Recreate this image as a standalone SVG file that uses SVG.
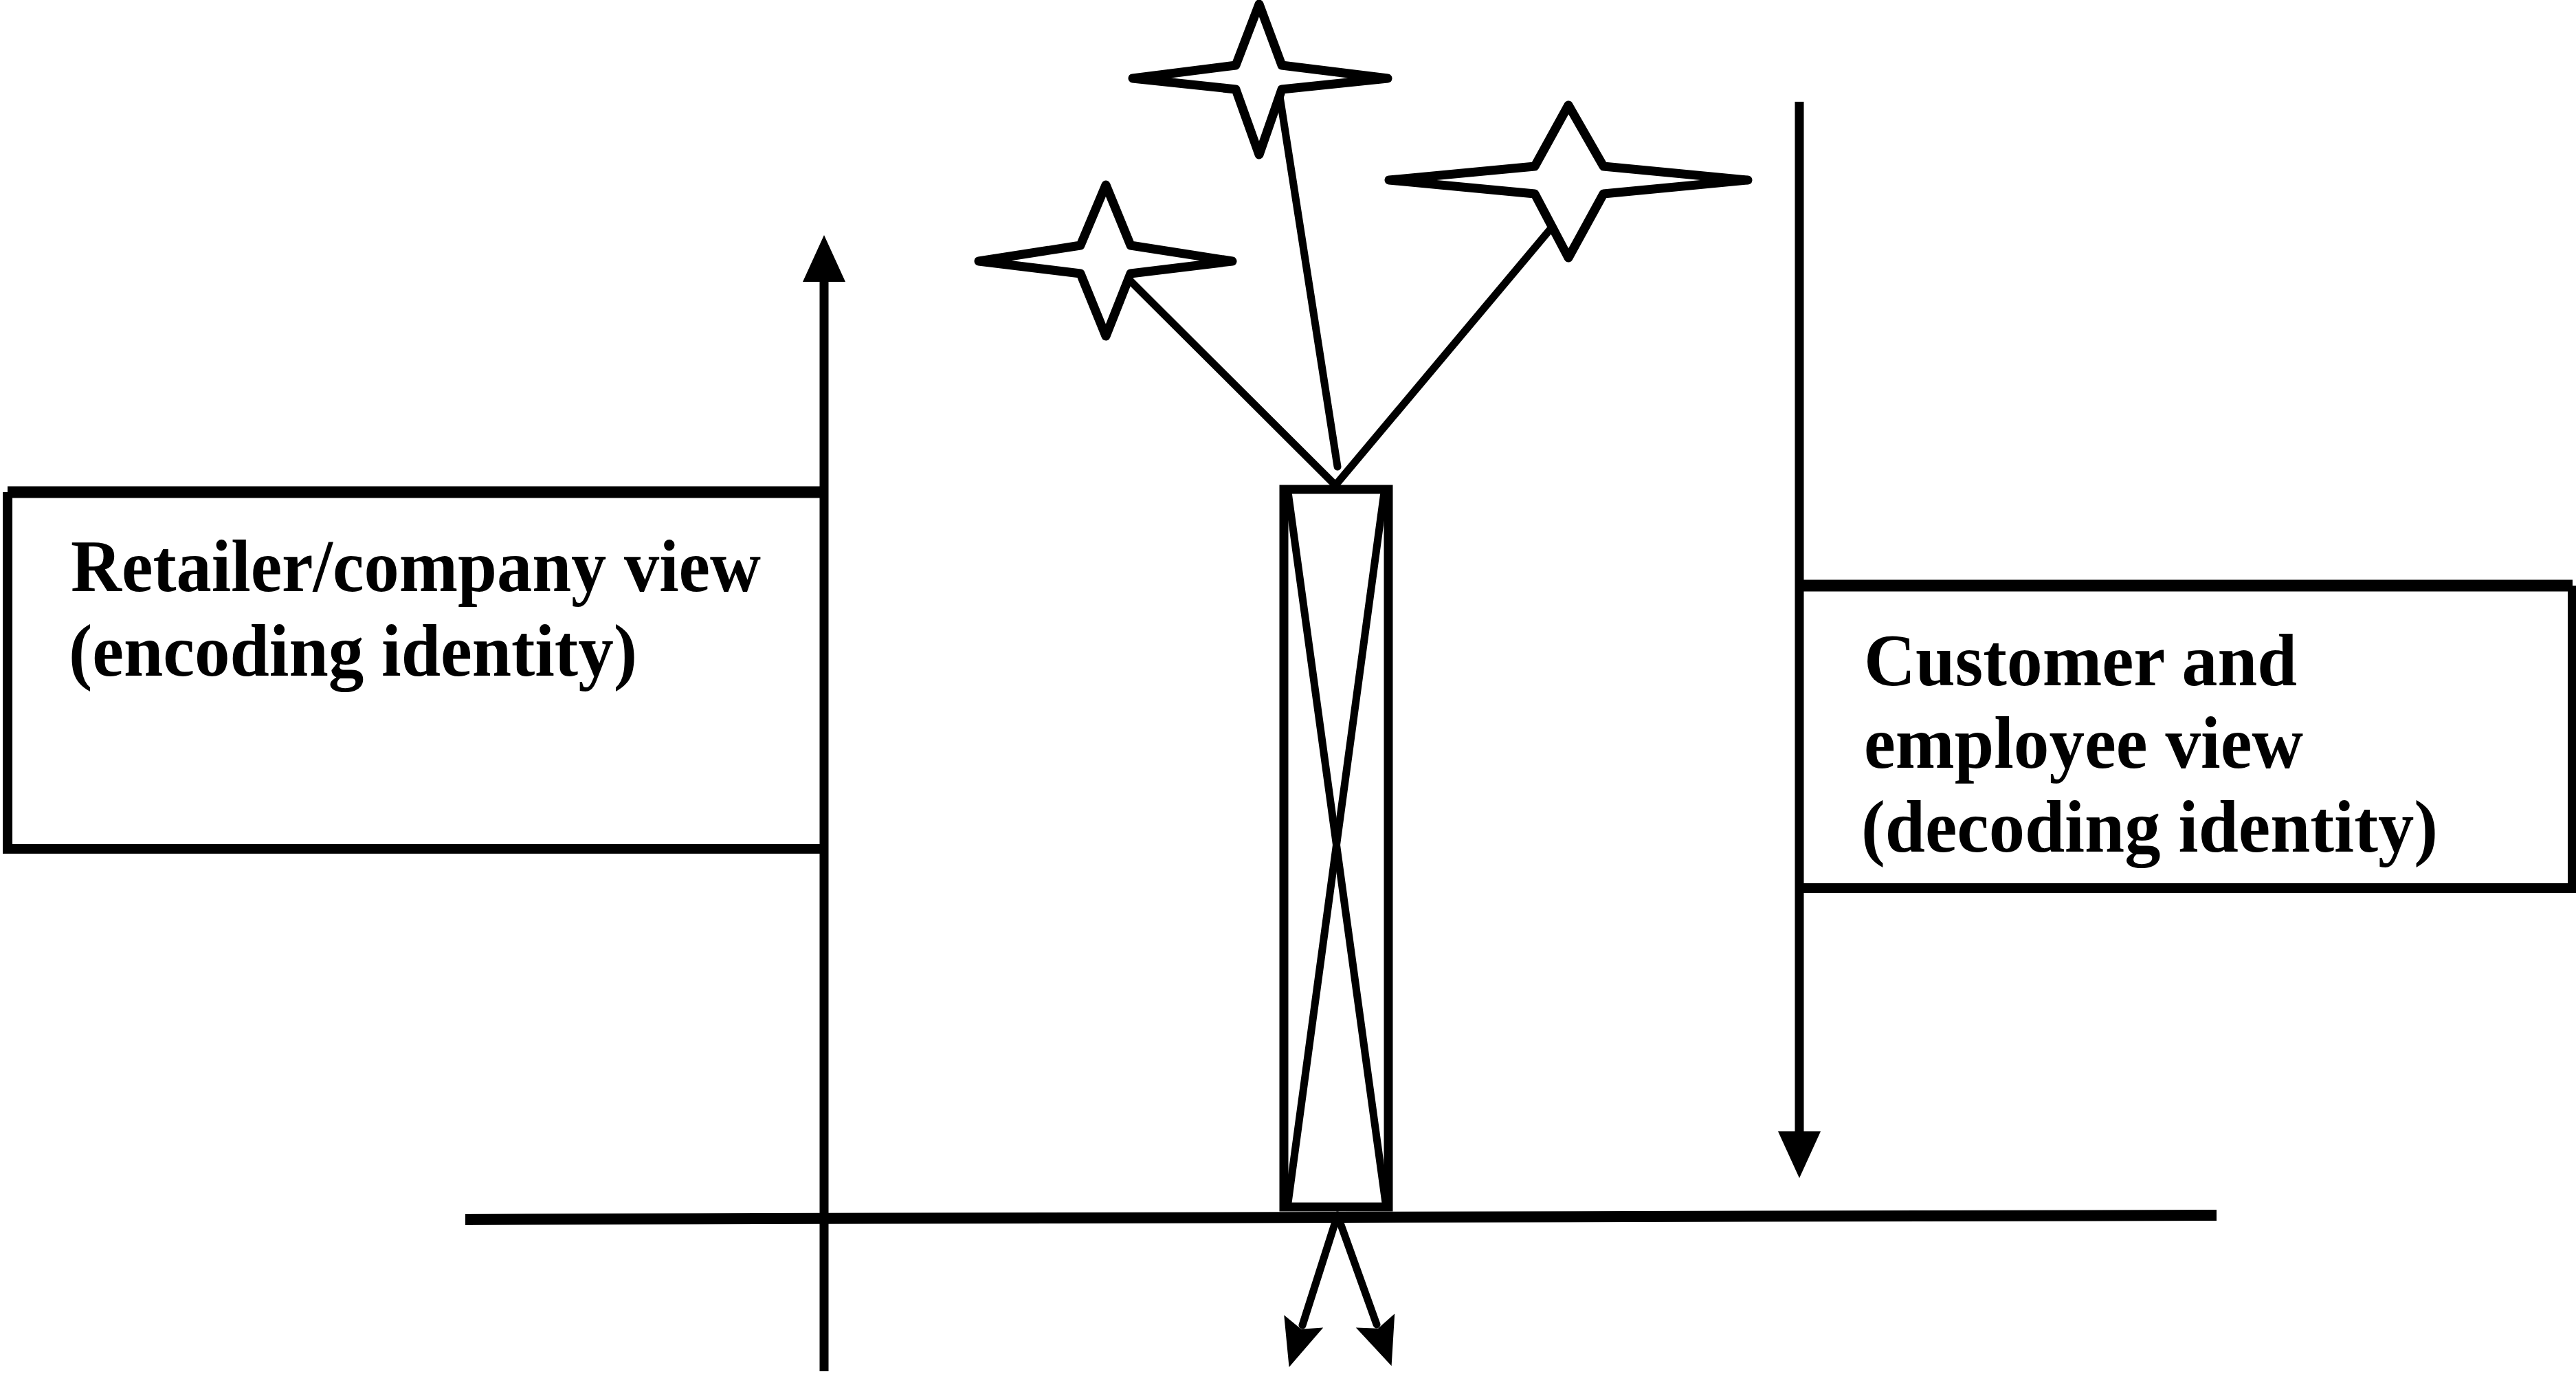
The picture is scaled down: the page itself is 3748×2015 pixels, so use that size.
<svg xmlns="http://www.w3.org/2000/svg" width="3748" height="2015" viewBox="0 0 3748 2015">
<style>
  .bg { fill: #ffffff; }
  .box { fill: none; stroke: #000; stroke-width: 14; }
  .boxtop { fill: none; stroke: #000; stroke-width: 17; }
  .lbl { font-family: "Liberation Serif", "Times New Roman", serif; font-weight: bold; font-size: 108px; fill: #000; }
  .star { fill: #fff; stroke: #000; stroke-width: 13; stroke-linejoin: round; }
  .conn { fill: none; stroke: #000; stroke-width: 11; stroke-linecap: round; }
  .axis { fill: none; stroke: #000; stroke-width: 13; }
  .base { fill: none; stroke: #000; stroke-width: 16; }
  .pillar { fill: none; stroke: #000; stroke-width: 13; }
</style>
<defs>
  <marker id="arrow" viewBox="0 0 68 62" refX="2" refY="31" markerWidth="68" markerHeight="62" markerUnits="userSpaceOnUse" orient="auto">
    <path d="M0,0 L68,31 L0,62 Z" fill="#000"/>
  </marker>
  <marker id="arrowSmall" viewBox="0 0 70 60" refX="6" refY="30" markerWidth="70" markerHeight="60" markerUnits="userSpaceOnUse" orient="auto">
    <path d="M0,0 L70,30 L0,60 L12,30 Z" fill="#000"/>
  </marker>
</defs>
<rect class="bg" x="0" y="0" width="3748" height="2015"/>

<g id="retailer-view">
  <path class="box" d="M1199,1235 L11,1235 L11,716"/>
  <path class="boxtop" d="M11,716 L1199,716"/>
  <text class="lbl" x="103" y="860" textLength="1004" lengthAdjust="spacingAndGlyphs">Retailer/company view</text>
  <text class="lbl" x="100" y="983" textLength="827" lengthAdjust="spacingAndGlyphs">(encoding identity)</text>
</g>

<g id="customer-view">
  <path class="box" d="M2618,1292 L3743,1292 L3743,852"/>
  <path class="boxtop" d="M2618,852 L3743,852"/>
  <text class="lbl" x="2712" y="997" textLength="630" lengthAdjust="spacingAndGlyphs">Customer and</text>
  <text class="lbl" x="2712" y="1117" textLength="639" lengthAdjust="spacingAndGlyphs">employee view</text>
  <text class="lbl" x="2708" y="1239" textLength="839" lengthAdjust="spacingAndGlyphs">(decoding identity)</text>
</g>

<g id="pillar">
  <rect class="pillar" x="1868" y="712" width="152" height="1044"/>
  <line class="conn" x1="1874" y1="716" x2="2016" y2="1750"/>
  <line class="conn" x1="2014" y1="716" x2="1874" y2="1750"/>
</g>

<g id="star-left">
  <polygon class="star" points="1609,269 1645,357 1793,380 1645,398 1609,489 1572,398 1424,380 1572,357"/>
</g>
<g id="star-top">
  <polygon class="star" points="1832,6 1865,95 2019,114 1865,130 1832,225 1798,130 1648,114 1798,95"/>
</g>
<g id="star-right">
  <polygon class="star" points="2282,153 2333,242 2543,262 2333,282 2282,375 2233,282 2021,262 2233,242"/>
</g>

<g id="connectors">
  <line class="conn" x1="1646" y1="410" x2="1943" y2="706"/>
  <line class="conn" x1="1862" y1="140" x2="1946" y2="679"/>
  <line class="conn" x1="2256" y1="333" x2="1943" y2="706"/>
  <line class="base" x1="677" y1="1774" x2="3225" y2="1768"/>
  <line class="axis" x1="1199" y1="1995" x2="1199" y2="408" marker-end="url(#arrow)"/>
  <line class="axis" x1="2618" y1="148" x2="2618" y2="1648" marker-end="url(#arrow)"/>
  <line class="conn" x1="1946" y1="1768" x2="1895" y2="1928" marker-end="url(#arrowSmall)"/>
  <line class="conn" x1="1946" y1="1768" x2="2003" y2="1927" marker-end="url(#arrowSmall)"/>
</g>
</svg>
